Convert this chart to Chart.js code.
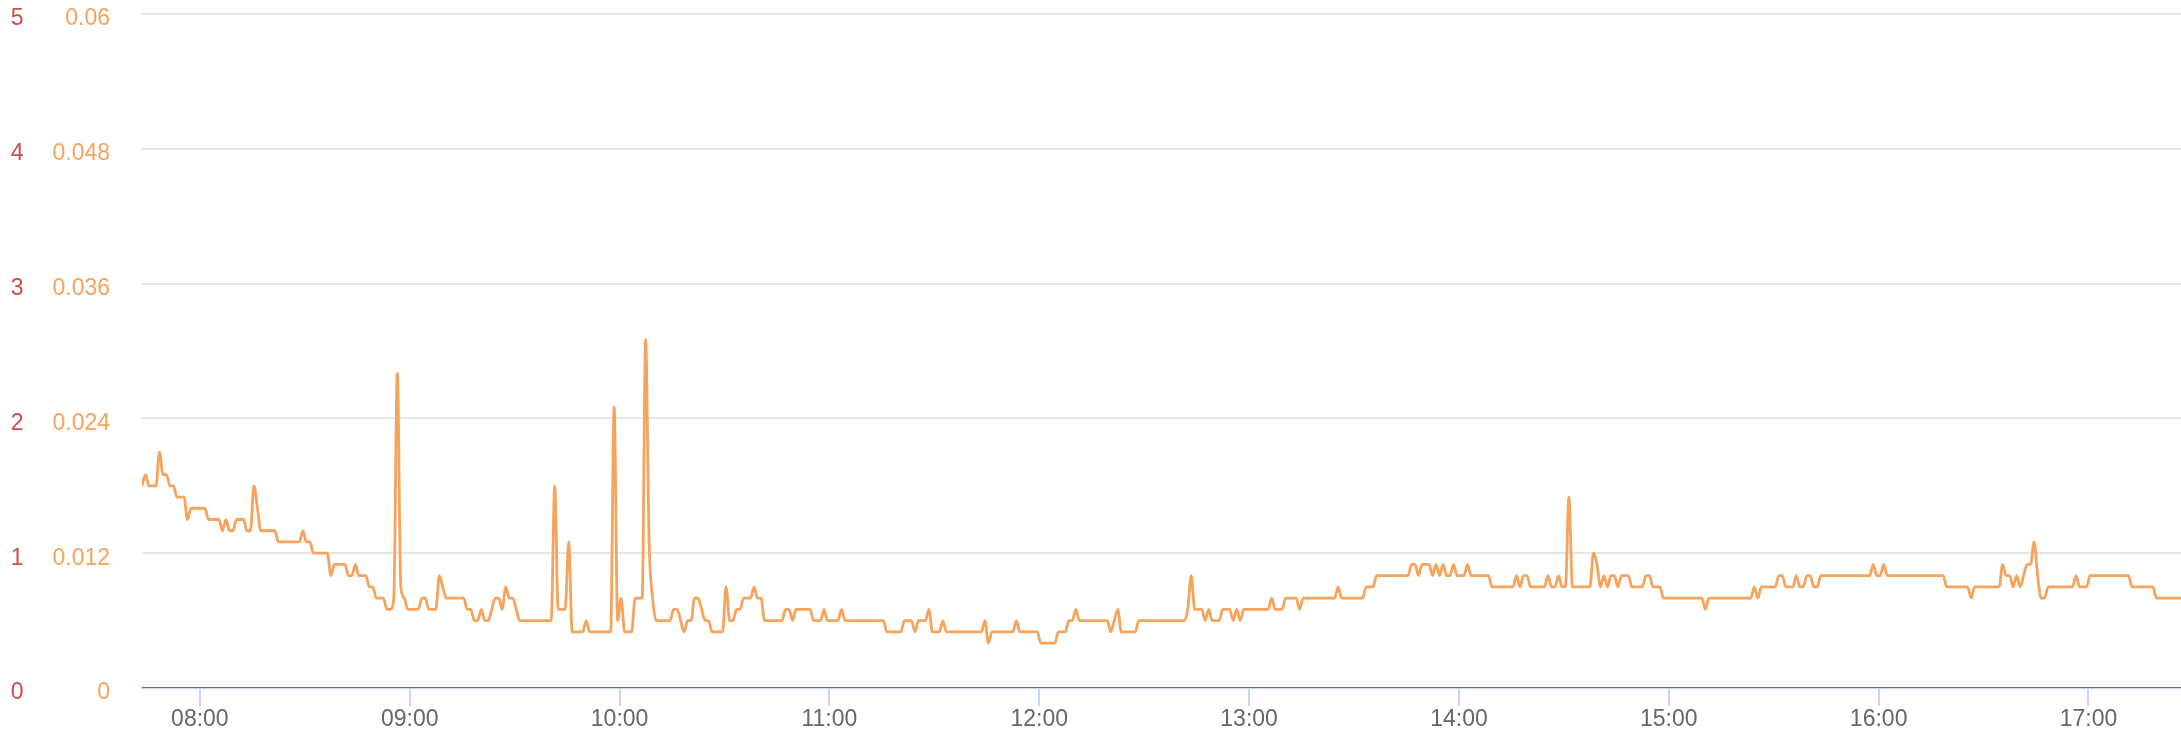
<!DOCTYPE html>
<html>
<head>
<meta charset="utf-8">
<script src="https://cdn.jsdelivr.net/npm/chart.js@4.4.0/dist/chart.umd.min.js"></script>
<style>
  html, body { margin: 0; padding: 0; background: #fff; }
  #wrap { position: relative; width: 2181px; height: 733px; }
</style>
</head>
<body>
<div id="wrap"><canvas id="chart"></canvas></div>
<script>
// samples are stamped 27 s past the minute
const SAMPLE_SEC = 27;

const xTicks = ['08:00', '09:00', '10:00', '11:00', '12:00', '13:00', '14:00', '15:00', '16:00', '17:00'];
const orangeTicks = ['0', '0.012', '0.024', '0.036', '0.048', '0.06'];
const redTicks = ['0', '1', '2', '3', '4', '5'];

// orange series: readings where the level changes
const orangeTimes = [
  '07:43','07:44','07:45','07:47','07:48','07:49','07:50','07:51','07:52','07:53','07:55','07:56','07:57',
  '08:01','08:02','08:05','08:06','08:07','08:08','08:09','08:10','08:12','08:13','08:14','08:15','08:16','08:17','08:21','08:22',
  '08:28','08:29','08:30','08:31','08:32','08:36','08:37','08:38','08:41','08:42','08:43','08:44','08:45','08:47','08:48','08:49',
  '08:50','08:52','08:53','08:54','08:55','08:56','08:57','08:58','08:59',
  '09:02','09:03','09:04','09:05','09:07','09:08','09:09','09:10','09:15','09:16','09:17','09:18','09:19','09:20','09:21','09:22',
  '09:23','09:24','09:25','09:26','09:27','09:28','09:29','09:30','09:31','09:40','09:41','09:42','09:44','09:45','09:46','09:49',
  '09:50','09:51','09:57','09:58','09:59',
  '10:00','10:01','10:03','10:04','10:06','10:07','10:08','10:09','10:10','10:14','10:15','10:16','10:17','10:18','10:19','10:20',
  '10:21','10:22','10:23','10:24','10:25','10:26','10:29','10:30','10:31','10:32','10:33','10:34','10:35','10:37','10:38','10:39',
  '10:40','10:41','10:46','10:47','10:48','10:49','10:50','10:54','10:55','10:57','10:58','10:59',
  '11:02','11:03','11:04','11:15','11:16','11:20','11:21','11:23','11:24','11:25','11:27','11:28','11:29','11:31','11:32','11:33',
  '11:43','11:44','11:45','11:46','11:52','11:53','11:54','11:59',
  '12:00','12:04','12:05','12:07','12:08','12:09','12:10','12:11','12:19','12:20','12:21','12:22','12:23','12:27','12:28','12:41',
  '12:42','12:43','12:44','12:46','12:47','12:48','12:49','12:51','12:52','12:54','12:55','12:56','12:57','12:58',
  '13:05','13:06','13:07','13:09','13:10','13:13','13:14','13:15','13:24','13:25','13:26','13:32','13:33','13:35','13:36','13:45',
  '13:46','13:47','13:48','13:49','13:51','13:52','13:53','13:54','13:55','13:56','13:57','13:58','13:59',
  '14:01','14:02','14:03','14:08','14:09','14:15','14:16','14:17','14:18','14:19','14:20','14:24','14:25','14:26','14:27','14:28',
  '14:29','14:30','14:31','14:32','14:37','14:38','14:39','14:40','14:41','14:42','14:43','14:44','14:45','14:46','14:48','14:49',
  '14:52','14:53','14:54','14:55','14:57','14:58',
  '15:09','15:10','15:11','15:23','15:24','15:25','15:26','15:30','15:31','15:32','15:33','15:35','15:36','15:37','15:38','15:39',
  '15:40','15:41','15:42','15:43','15:57','15:58','15:59',
  '16:00','16:01','16:02','16:18','16:19','16:25','16:26','16:27','16:34','16:35','16:36','16:37','16:38','16:39','16:40','16:41',
  '16:42','16:43','16:44','16:45','16:46','16:47','16:48','16:55','16:56','16:57','16:59',
  '17:00','17:11','17:12','17:18','17:19','17:26'
];
const orangeValues = [
  0.018,0.019,0.018,0.018,0.021,0.019,0.019,0.018,0.018,0.017,0.017,0.015,0.016,
  0.016,0.015,0.015,0.014,0.015,0.014,0.014,0.015,0.015,0.014,0.014,0.018,0.016,0.014,0.014,0.013,
  0.013,0.014,0.013,0.013,0.012,0.012,0.010,0.011,0.011,0.010,0.010,0.011,0.010,0.010,0.009,0.009,
  0.008,0.008,0.007,0.007,0.008,0.028,0.009,0.008,0.007,
  0.007,0.008,0.008,0.007,0.007,0.010,0.009,0.008,0.008,0.007,0.007,0.006,0.006,0.007,0.006,0.006,
  0.007,0.008,0.008,0.007,0.009,0.008,0.008,0.007,0.006,0.006,0.018,0.007,0.007,0.013,0.005,0.005,
  0.006,0.005,0.005,0.025,0.006,
  0.008,0.005,0.005,0.008,0.008,0.031,0.013,0.008,0.006,0.006,0.007,0.007,0.006,0.005,0.006,0.006,
  0.008,0.008,0.007,0.006,0.006,0.005,0.005,0.009,0.006,0.006,0.007,0.007,0.008,0.008,0.009,0.008,
  0.008,0.006,0.006,0.007,0.007,0.006,0.007,0.007,0.006,0.006,0.007,0.006,
  0.006,0.007,0.006,0.006,0.005,0.005,0.006,0.006,0.005,0.006,0.006,0.007,0.005,0.005,0.006,0.005,
  0.005,0.006,0.004,0.005,0.005,0.006,0.005,0.005,
  0.004,0.004,0.005,0.005,0.006,0.006,0.007,0.006,0.006,0.005,0.006,0.007,0.005,0.005,0.006,0.006,
  0.007,0.010,0.007,0.007,0.006,0.007,0.006,0.006,0.007,0.007,0.006,0.007,0.006,0.007,
  0.007,0.008,0.007,0.007,0.008,0.008,0.007,0.008,0.008,0.009,0.008,0.008,0.009,0.009,0.010,0.010,
  0.011,0.011,0.010,0.011,0.011,0.010,0.011,0.010,0.011,0.010,0.010,0.011,0.010,
  0.010,0.011,0.010,0.010,0.009,0.009,0.010,0.009,0.010,0.010,0.009,0.009,0.010,0.009,0.009,0.010,
  0.009,0.009,0.017,0.009,0.009,0.012,0.011,0.009,0.010,0.009,0.010,0.010,0.009,0.010,0.010,0.009,
  0.009,0.010,0.010,0.009,0.009,0.008,
  0.008,0.007,0.008,0.008,0.009,0.008,0.009,0.009,0.010,0.010,0.009,0.009,0.010,0.009,0.009,0.010,
  0.010,0.009,0.009,0.010,0.010,0.011,0.010,
  0.010,0.011,0.010,0.010,0.009,0.009,0.008,0.009,0.009,0.011,0.010,0.010,0.009,0.010,0.009,0.010,
  0.011,0.011,0.013,0.010,0.008,0.008,0.009,0.009,0.010,0.009,0.009,
  0.010,0.010,0.009,0.009,0.008,0.008
];

// red series stays at zero all day
const redTimes = ['07:43', '17:26'];
const redValues = [0, 0];

const ORANGE = '#f7a35c';
const RED = '#d24b4b';

function clock(s) {
  const [h, m] = s.split(':').map(Number);
  return h * 60 + m;
}
function sampleX(s) {
  return clock(s) + SAMPLE_SEC / 60;
}

const orangeData = orangeTimes.map((t, i) => ({ x: sampleX(t), y: orangeValues[i] }));
const redData = redTimes.map((t, i) => ({ x: sampleX(t), y: redValues[i] }));

const font = { family: "'Liberation Sans', Arial, sans-serif", size: 23, lineHeight: 1.2 };

// keep the plot area edges where the reference has them
function noPad(axis) {
  axis.paddingTop = 0;
  axis.paddingBottom = 0;
}

new Chart(document.getElementById('chart'), {
  type: 'line',
  data: {
    datasets: [
      {
        data: redData,
        yAxisID: 'yRed',
        borderColor: RED,
        borderWidth: 1.8,
        pointRadius: 0,
        fill: false
      },
      {
        data: orangeData,
        yAxisID: 'yOrange',
        borderColor: ORANGE,
        borderWidth: 2.8,
        pointRadius: 0,
        fill: false,
        cubicInterpolationMode: 'monotone'
      }
    ]
  },
  options: {
    responsive: true,
    maintainAspectRatio: false,
    animation: false,
    layout: { padding: { top: 14, right: 0, bottom: 0, left: 0 } },
    plugins: { legend: { display: false }, tooltip: { enabled: false } },
    scales: {
      x: {
        type: 'linear',
        min: sampleX(orangeTimes[0]),
        max: sampleX(orangeTimes[orangeTimes.length - 1]),
        afterBuildTicks: axis => { axis.ticks = xTicks.map(t => ({ value: clock(t) })); },
        afterFit: axis => { axis.height = 45; axis.paddingLeft = 0; axis.paddingRight = 0; },
        grid: { drawOnChartArea: false, drawTicks: true, tickLength: 18, color: '#ccd6eb', lineWidth: 2 },
        border: { color: '#ccd6eb', width: 2 },
        ticks: {
          autoSkip: false,
          maxRotation: 0,
          padding: 0,
          color: '#666666',
          font: font,
          callback: (v, i) => xTicks[i]
        }
      },
      yOrange: {
        position: 'left',
        weight: 0,
        min: 0,
        max: 0.06,
        afterBuildTicks: axis => { axis.ticks = orangeTicks.map(t => ({ value: Number(t) })); },
        afterFit: axis => { axis.width = 114; noPad(axis); },
        grid: { color: '#e6e6e6', lineWidth: 2, drawTicks: false },
        border: { display: false },
        ticks: {
          padding: 32,
          labelOffset: 5,
          color: ORANGE,
          font: font,
          callback: (v, i) => orangeTicks[i]
        }
      },
      yRed: {
        position: 'left',
        weight: 1,
        min: 0,
        max: 5,
        afterBuildTicks: axis => { axis.ticks = redTicks.map(t => ({ value: Number(t) })); },
        afterFit: axis => { axis.width = 28; noPad(axis); },
        grid: { display: false, drawTicks: false },
        border: { display: false },
        ticks: {
          padding: 4.5,
          labelOffset: 5,
          color: RED,
          font: font,
          callback: (v, i) => redTicks[i]
        }
      }
    }
  }
});
</script>
</body>
</html>
